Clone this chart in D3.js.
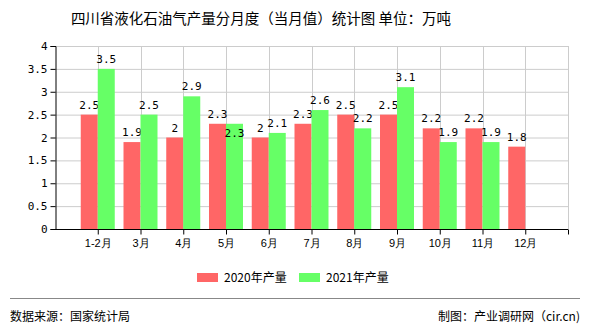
<!DOCTYPE html>
<html><head><meta charset="utf-8">
<script src="https://cdn.jsdelivr.net/npm/d3@7"></script>
<style>body{margin:0;background:#fff}svg{display:block;font-family:"Noto Sans CJK SC","DejaVu Sans",sans-serif}</style>
</head><body><svg id="c" width="590" height="330"></svg>
<script>
const categories = ["1-2月","3月","4月","5月","6月","7月","8月","9月","10月","11月","12月"];
const series2020 = [2.5,1.9,2,2.3,2,2.3,2.5,2.5,2.2,2.2,1.8];
const series2021 = [3.5,2.5,2.9,2.3,2.1,2.6,2.2,3.1,1.9,1.9,null];
const seriesNames = ["2020年产量","2021年产量"];
const colors = ["#ff6666","#66ff66"];
const yTicks = [0,0.5,1,1.5,2,2.5,3,3.5,4];

const svg = d3.select("#c");
const L=55,R=568,T=46,B=229;
const x = d3.scalePoint().domain(categories).range([L,R]).padding(1);
const y = d3.scaleLinear().domain([0,4]).range([B,T]);
const bw = 17;

svg.append("text").attr("x",261).attr("y",24).attr("text-anchor","middle")
  .attr("font-size",14.5).attr("fill","#000").text("四川省液化石油气产量分月度（当月值）统计图 单位：万吨");

const g = svg.append("g");
g.selectAll(".hg").data(yTicks.slice(1)).join("line")
  .attr("x1",L).attr("x2",R).attr("y1",d=>y(d)+0.5).attr("y2",d=>y(d)+0.5)
  .attr("stroke","#cccccc");
const vx = categories.map(c=>x(c)).concat([R]);
g.selectAll(".vg").data(vx).join("line")
  .attr("x1",d=>Math.round(d)+0.5).attr("x2",d=>Math.round(d)+0.5).attr("y1",T).attr("y2",B)
  .attr("stroke","#cccccc");

const data = [series2020, series2021];
data.forEach((s,si)=>{
  const pts = categories.map((c,i)=>({c,i,v:s[i]})).filter(d=>d.v!=null);
  const xs = d=> si===0 ? x(d.c)-bw : x(d.c);
  g.selectAll(".b"+si).data(pts).join("rect")
    .attr("x",d=>xs(d)).attr("width",bw)
    .attr("y",d=>y(d.v)).attr("height",d=>B-y(d.v)).attr("fill",colors[si]);
  const ly = d => {
    if (si===1 && Math.abs(y(d.v)-y(series2020[d.i]))<2) return y(d.v)+13;
    return y(d.v)-6;
  };
  g.selectAll(".t"+si).data(pts).join("text")
    .attr("x",d=>xs(d)+bw/2).attr("y",ly)
    .attr("text-anchor","middle").attr("font-size",11).attr("fill","#000")
    .attr("font-family","'DejaVu Sans Mono',monospace")
    .text(d=>d.v);
});

const ya = svg.append("g").attr("transform",`translate(${L+0.5},0)`)
  .call(d3.axisLeft(y).tickValues(yTicks).tickSize(5).tickFormat(d=>d));
ya.select(".domain").attr("stroke","#000");
ya.selectAll("text").attr("font-size",11).attr("font-family","'DejaVu Sans Mono',monospace").attr("fill","#000");
const xa = svg.append("g").attr("transform",`translate(0,${B+0.5})`)
  .call(d3.axisBottom(x).tickSize(5).tickSizeOuter(0));
xa.select(".domain").attr("stroke","#000").attr("d",`M${L},0H${R}`);
xa.selectAll("text").attr("font-size",11).attr("fill","#000").attr("dy","0.9em");
xa.append("line").attr("x1",R+0.5).attr("x2",R+0.5).attr("y1",0).attr("y2",5).attr("stroke","#000");

const lg = svg.append("g");
[[197,224],[299,326]].forEach((p,i)=>{
  lg.append("rect").attr("x",p[0]).attr("y",273).attr("width",21).attr("height",9).attr("fill",colors[i]);
  lg.append("text").attr("x",p[1]).attr("y",282).attr("font-size",12).attr("fill","#000").text(seriesNames[i]);
});

svg.append("line").attr("x1",10).attr("x2",580).attr("y1",298.5).attr("y2",298.5).attr("stroke","#888");
svg.append("text").attr("x",10).attr("y",321).attr("font-size",12).attr("fill","#000").text("数据来源：国家统计局");
svg.append("text").attr("x",580).attr("y",321).attr("text-anchor","end").attr("font-size",12).attr("fill","#000").text("制图：产业调研网（cir.cn)");
</script></body></html>
